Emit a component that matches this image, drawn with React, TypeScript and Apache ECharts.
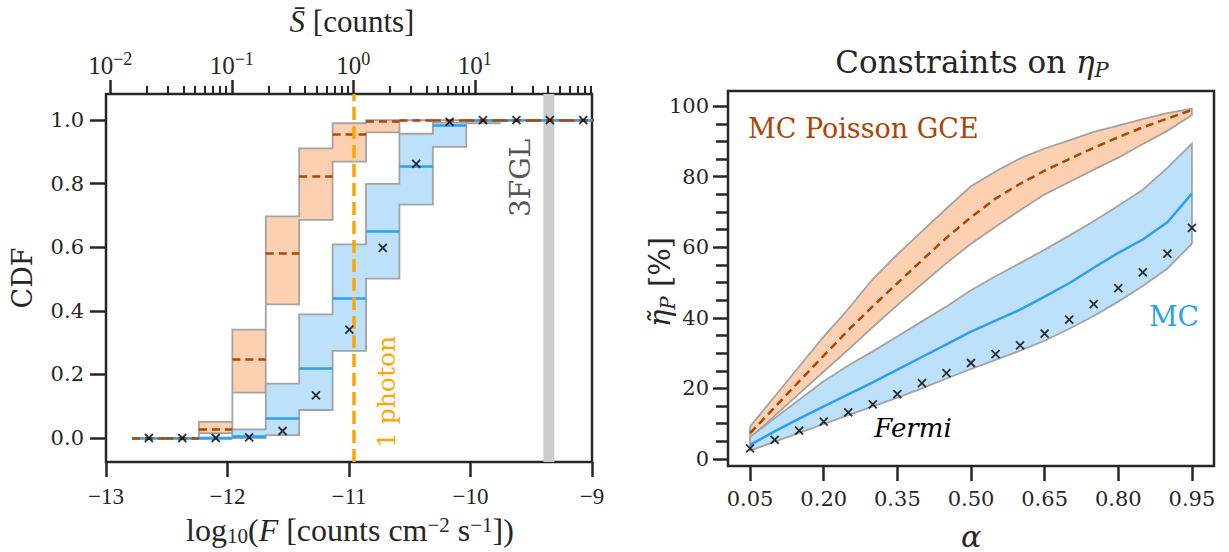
import React, { useEffect, useRef } from 'react';
import * as echarts from 'echarts';

// ---------------- Left panel: CDF of source fluxes ----------------
const binEdges = [-12.785, -12.51, -12.235, -11.96, -11.685, -11.41, -11.135, -10.86, -10.585, -10.31, -10.035, -9.76, -9.485, -9.21, -8.935];
const binCenters = [-12.647, -12.372, -12.097, -11.822, -11.547, -11.272, -10.997, -10.722, -10.447, -10.172, -9.897, -9.622, -9.347, -9.072];

const poissonLo = [0, 0, 0.015, 0.143, 0.42, 0.686, 0.869, 0.961, 0.999, 1, 1, 1, 1, 1];
const poissonMed = [0, 0, 0.028, 0.248, 0.581, 0.822, 0.956, 0.995, 1, 1, 1, 1, 1, 1];
const poissonHi = [0, 0, 0.051, 0.341, 0.697, 0.911, 0.99, 1, 1, 1, 1, 1, 1, 1];

const mcLo = [0, 0, 0, 0, 0.009, 0.088, 0.274, 0.501, 0.734, 0.916, 0.99, 1, 1, 1];
const mcMed = [0, 0, 0, 0.004, 0.062, 0.22, 0.439, 0.65, 0.856, 0.984, 0.998, 1, 1, 1];
const mcHi = [0, 0, 0.002, 0.027, 0.171, 0.389, 0.609, 0.799, 0.957, 0.992, 1, 1, 1, 1];

const fermiCdf = [0, 0, 0, 0.002, 0.022, 0.134, 0.341, 0.598, 0.862, 0.994, 1, 1, 1, 1];

const photonLogF = -10.965; // flux giving 1 photon (S = 1 count)
const fgl3Band = [-9.4, -9.31];
const cdfTicks = [0, 0.2, 0.4, 0.6, 0.8, 1.0];
const sTicksMajor = [-2, -1, 0, 1];
const logFMin = -13;
const logFMax = -9;

// ---------------- Right panel: constraints on eta_P ----------------
const alphaVals = [0.05, 0.1, 0.15, 0.2, 0.25, 0.3, 0.35, 0.4, 0.45, 0.5, 0.55, 0.6, 0.65, 0.7, 0.75, 0.8, 0.85, 0.9, 0.95];
const fermiEta = [3.0, 5.4, 8.0, 10.6, 13.2, 15.5, 18.4, 21.5, 24.3, 27.2, 29.7, 32.2, 35.5, 39.5, 43.9, 48.4, 52.9, 58.2, 65.5];
const mcEtaMed = [4.0, 7.8, 11.4, 14.9, 18.3, 21.7, 25.3, 28.9, 32.5, 36.1, 39.2, 42.3, 46.0, 49.8, 54.2, 58.4, 62.2, 67.1, 75.2];
const mcEtaHi = [6.2, 11.5, 16.8, 22.0, 26.5, 30.5, 34.7, 39.0, 43.2, 47.8, 51.8, 55.5, 59.3, 63.3, 67.4, 71.8, 76.3, 82.5, 89.4];
const mcEtaLo = [2.4, 4.9, 7.4, 9.9, 12.4, 14.9, 17.4, 20.0, 22.8, 25.5, 28.1, 30.7, 33.5, 36.9, 40.5, 44.6, 49.0, 54.0, 61.0];
const poiEtaMed = [7.3, 14.6, 22.0, 29.3, 36.5, 43.3, 49.8, 56.3, 62.7, 68.5, 73.8, 78.0, 81.7, 85.0, 88.2, 91.2, 94.0, 96.5, 98.9];
const poiEtaHi = [9.2, 17.7, 26.2, 34.7, 42.5, 51.0, 58.0, 64.5, 71.0, 77.3, 81.5, 85.2, 88.0, 90.3, 92.7, 94.5, 96.3, 98.0, 99.3];
const poiEtaLo = [5.9, 12.2, 18.5, 24.8, 31.0, 37.4, 43.6, 49.6, 55.5, 61.0, 65.8, 70.5, 75.0, 78.5, 82.0, 85.4, 89.3, 93.0, 97.5];
const alphaTicks = [0.05, 0.2, 0.35, 0.5, 0.65, 0.8, 0.95];
const etaTicksMajor = [0, 20, 40, 60, 80, 100];
const etaTicksMinor = [5, 10, 15, 25, 30, 35, 45, 50, 55, 65, 70, 75, 85, 90, 95];

// ---------------- styling ----------------
const SERIF = "'DejaVu Serif', serif";
const CM = "'Liberation Serif', 'DejaVu Serif', serif";
const INK = '#262626';
const EDGE = '#a3a3a3';
const ORANGE_FILL = '#fdd0b1';
const BLUE_FILL = '#bde1fb';
const DARK_ORANGE = '#ac4505';
const BLUE = '#2b9ff5';
const PHOTON = '#ffa500';
const CROSS = 'path://M0 0L10 10M10 0L0 10';

const fnt = (size: number, family: string, italic = false) => `${italic ? 'italic ' : ''}${size}px ${family}`;

const topMinor: number[] = [];
for (let n = -3; n <= 1; n++) {
  for (let k = 2; k <= 9; k++) {
    const v = n + Math.log10(k);
    if (v > logFMin - photonLogF && v < logFMax - photonLogF) topMinor.push(v);
  }
}

const tickLine = { color: INK, width: 2.5 };

function stepBand(lo: number[], hi: number[], fill: string) {
  return {
    type: 'custom',
    xAxisIndex: 0,
    yAxisIndex: 0,
    clip: true,
    z: 2,
    silent: true,
    data: lo.map((v, i) => [binCenters[i], v, hi[i]]),
    encode: { x: 0, y: [1, 2] },
    renderItem: (params: any, api: any) => {
      if (params.dataIndex !== 0) return null;
      const pts: number[][] = [];
      for (let i = 0; i < hi.length; i++) {
        pts.push(api.coord([binEdges[i], hi[i]]));
        pts.push(api.coord([binEdges[i + 1], hi[i]]));
      }
      for (let i = lo.length - 1; i >= 0; i--) {
        pts.push(api.coord([binEdges[i + 1], lo[i]]));
        pts.push(api.coord([binEdges[i], lo[i]]));
      }
      return { type: 'polygon', shape: { points: pts }, style: { fill, stroke: EDGE, lineWidth: 1.8 } };
    },
  };
}

function smoothBand(lo: number[], hi: number[], fill: string) {
  return {
    type: 'custom',
    xAxisIndex: 3,
    yAxisIndex: 1,
    clip: true,
    z: 2,
    silent: true,
    data: lo.map((v, i) => [alphaVals[i], v, hi[i]]),
    encode: { x: 0, y: [1, 2] },
    renderItem: (params: any, api: any) => {
      if (params.dataIndex !== 0) return null;
      const pts: number[][] = [];
      for (let i = 0; i < hi.length; i++) pts.push(api.coord([alphaVals[i], hi[i]]));
      for (let i = lo.length - 1; i >= 0; i--) pts.push(api.coord([alphaVals[i], lo[i]]));
      return { type: 'polygon', shape: { points: pts }, style: { fill, stroke: EDGE, lineWidth: 1.8 } };
    },
  };
}

function medianSegments(vals: number[], color: string, dashed: boolean, z: number) {
  return {
    type: 'lines',
    coordinateSystem: 'cartesian2d',
    xAxisIndex: 0,
    yAxisIndex: 0,
    clip: true,
    silent: true,
    z,
    data: vals.map((v, i) => ({ coords: [[binEdges[i], v], [binEdges[i + 1], v]] })),
    lineStyle: { color, width: 2.5, opacity: 1, type: dashed ? [8, 5] : 'solid' },
  };
}

const supMinus = (v: number) => (v < 0 ? '\u2212' : '') + Math.abs(Math.round(v));

function label(x: number, y: number, text: string, font: string, fill: string, opts: any = {}) {
  return {
    type: 'text', x, y, z: 10, rotation: opts.rotation || 0,
    style: { text, font, fill, align: opts.align || 'center', verticalAlign: 'middle', rich: opts.rich },
  };
}

const option: any = {
  animation: false,
  backgroundColor: '#ffffff',
  grid: [
    { left: 106, top: 94, width: 486, height: 368, show: true, borderColor: INK, borderWidth: 2.5, backgroundColor: 'transparent' },
    { left: 728, top: 91, width: 486, height: 375, show: true, borderColor: INK, borderWidth: 2.5, backgroundColor: 'transparent' },
  ],
  xAxis: [
    {
      gridIndex: 0, type: 'value', min: logFMin, max: logFMax, interval: 1, position: 'bottom',
      axisLine: { show: false, onZero: false },
      axisTick: { length: 15, lineStyle: tickLine },
      axisLabel: { formatter: (v: number) => String(v).replace('-', '\u2212'), fontFamily: CM, fontSize: 23, color: INK, margin: 23 },
      splitLine: { show: false },
    },
    {
      gridIndex: 0, type: 'value', min: logFMin - photonLogF, max: logFMax - photonLogF, position: 'top',
      axisLine: { show: false, onZero: false },
      axisTick: { customValues: sTicksMajor, length: 14, lineStyle: tickLine },
      axisLabel: {
        customValues: sTicksMajor,
        formatter: (v: number) => `{b|10}{s|${supMinus(v)}}`,
        margin: 16,
        rich: {
          b: { fontFamily: CM, fontSize: 25, color: INK, lineHeight: 28, verticalAlign: 'bottom' },
          s: { fontFamily: CM, fontSize: 18, color: INK, lineHeight: 18, verticalAlign: 'top' },
        },
      },
      splitLine: { show: false },
    },
    {
      gridIndex: 0, type: 'value', min: logFMin - photonLogF, max: logFMax - photonLogF, position: 'top',
      axisLine: { show: false, onZero: false },
      axisTick: { customValues: topMinor, length: 8, lineStyle: { color: INK, width: 2 } },
      axisLabel: { show: false },
      splitLine: { show: false },
    },
    {
      gridIndex: 1, type: 'value', min: 0.005, max: 0.995, position: 'bottom',
      axisLine: { show: false, onZero: false },
      axisTick: { customValues: alphaTicks, length: 15, lineStyle: tickLine },
      axisLabel: { customValues: alphaTicks, formatter: (v: number) => v.toFixed(2), fontFamily: SERIF, fontSize: 21, color: INK, margin: 22 },
      splitLine: { show: false },
    },
  ],
  yAxis: [
    {
      gridIndex: 0, type: 'value', min: -0.0755, max: 1.082, position: 'left',
      axisLine: { show: false, onZero: false },
      axisTick: { customValues: cdfTicks, length: 16, lineStyle: tickLine },
      axisLabel: { customValues: cdfTicks, formatter: (v: number) => v.toFixed(1), fontFamily: SERIF, fontSize: 21, color: INK, margin: 22 },
      splitLine: { show: false },
    },
    {
      gridIndex: 1, type: 'value', min: -2, max: 104.3, position: 'left',
      axisLine: { show: false, onZero: false },
      axisTick: { customValues: etaTicksMajor, length: 15, lineStyle: tickLine },
      axisLabel: { customValues: etaTicksMajor, formatter: (v: number) => String(Math.round(v)), fontFamily: SERIF, fontSize: 21, color: INK, margin: 19 },
      splitLine: { show: false },
    },
    {
      gridIndex: 1, type: 'value', min: -2, max: 104.3, position: 'left',
      axisLine: { show: false, onZero: false },
      axisTick: { customValues: etaTicksMinor, length: 12, lineStyle: tickLine },
      axisLabel: { show: false },
      splitLine: { show: false },
    },
  ],
  series: [
    // 3FGL band and 1-photon line
    {
      type: 'line', xAxisIndex: 0, yAxisIndex: 0, data: [], z: 1, silent: true,
      markArea: { silent: true, itemStyle: { color: '#cccccc' }, data: [[{ xAxis: fgl3Band[0] }, { xAxis: fgl3Band[1] }]] },
    },
    stepBand(poissonLo, poissonHi, ORANGE_FILL),
    stepBand(mcLo, mcHi, BLUE_FILL),
    medianSegments(mcMed, BLUE, false, 3),
    medianSegments(poissonMed, DARK_ORANGE, true, 4),
    {
      type: 'line', xAxisIndex: 0, yAxisIndex: 0, data: [], z: 5, silent: true,
      markLine: {
        silent: true, symbol: 'none', label: { show: false },
        lineStyle: { color: PHOTON, width: 3.5, type: [13, 6] },
        data: [{ xAxis: photonLogF }],
      },
    },
    {
      type: 'scatter', xAxisIndex: 0, yAxisIndex: 0, z: 6, silent: true,
      data: binCenters.map((x, i) => [x, fermiCdf[i]]),
      symbol: CROSS, symbolSize: 8,
      itemStyle: { color: 'transparent', borderColor: '#000', borderWidth: 1.8 },
    },
    // right panel
    smoothBand(poiEtaLo, poiEtaHi, ORANGE_FILL),
    smoothBand(mcEtaLo, mcEtaHi, BLUE_FILL),
    {
      type: 'line', xAxisIndex: 3, yAxisIndex: 1, z: 3, silent: true, showSymbol: false, symbol: 'none',
      data: alphaVals.map((a, i) => [a, mcEtaMed[i]]),
      lineStyle: { color: BLUE, width: 2.5 },
    },
    {
      type: 'line', xAxisIndex: 3, yAxisIndex: 1, z: 4, silent: true, showSymbol: false, symbol: 'none',
      data: alphaVals.map((a, i) => [a, poiEtaMed[i]]),
      lineStyle: { color: DARK_ORANGE, width: 2.5, type: [8, 5] },
    },
    {
      type: 'scatter', xAxisIndex: 3, yAxisIndex: 1, z: 6, silent: true,
      data: alphaVals.map((a, i) => [a, fermiEta[i]]),
      symbol: CROSS, symbolSize: 8,
      itemStyle: { color: 'transparent', borderColor: '#000', borderWidth: 1.8 },
    },
  ],
  graphic: [
    label(352, 21, '{i|S\u0304} {r|[counts]}', fnt(31, CM), INK, {
      rich: {
        i: { font: fnt(31, CM, true), fill: INK, lineHeight: 31 },
        r: { font: fnt(31, CM), fill: INK, lineHeight: 31 },
      },
    }),
    label(22, 278, 'CDF', fnt(27, SERIF), INK, { rotation: Math.PI / 2 }),
    label(350, 530, '{r|log}{sub|10}{r|(}{i|F}{r| [counts cm}{sup|\u22122}{r| s}{sup|\u22121}{r|])}', fnt(32, CM), INK, {
      rich: {
        r: { font: fnt(32, CM), fill: INK, lineHeight: 32, verticalAlign: 'middle' },
        i: { font: fnt(32, CM, true), fill: INK, lineHeight: 32, verticalAlign: 'middle' },
        sub: { font: fnt(21, CM), fill: INK, lineHeight: 21, verticalAlign: 'bottom' },
        sup: { font: fnt(21, CM), fill: INK, lineHeight: 21, verticalAlign: 'top' },
      },
    }),
    label(520, 178, '3FGL', fnt(28, SERIF), '#555555', { rotation: Math.PI / 2 }),
    label(386, 392, '1 photon', fnt(25, SERIF), PHOTON, { rotation: Math.PI / 2 }),
    label(972, 62, '{r|Constraints on }{i|\u03b7}{sub|P}', fnt(31, SERIF), INK, {
      rich: {
        r: { font: fnt(31, SERIF), fill: INK, lineHeight: 36, verticalAlign: 'middle' },
        i: { font: fnt(31, SERIF, true), fill: INK, lineHeight: 36, verticalAlign: 'middle' },
        sub: { font: fnt(21, SERIF, true), fill: INK, lineHeight: 21, verticalAlign: 'bottom' },
      },
    }),
    label(660, 282, '{i|\u03b7\u0303}{sub|P}{r| [%]}', fnt(29, SERIF), INK, {
      rotation: Math.PI / 2,
      rich: {
        r: { font: fnt(29, SERIF), fill: INK, lineHeight: 36, verticalAlign: 'middle' },
        i: { font: fnt(29, SERIF, true), fill: INK, lineHeight: 36, verticalAlign: 'middle' },
        sub: { font: fnt(20, SERIF, true), fill: INK, lineHeight: 20, verticalAlign: 'bottom' },
      },
    }),
    label(971, 536, '\u03b1', fnt(30, SERIF, true), INK),
    label(748, 128, 'MC Poisson GCE', fnt(27, SERIF), DARK_ORANGE, { align: 'left' }),
    label(1199, 316, 'MC', fnt(28, SERIF), BLUE, { align: 'right' }),
    label(913, 428, 'Fermi', fnt(26, SERIF, true), '#000000'),
  ],
};

export default function App() {
  const ref = useRef<HTMLDivElement>(null);
  useEffect(() => {
    const chart = echarts.init(ref.current as HTMLDivElement, null, { renderer: 'svg' });
    chart.setOption(option);
    return () => chart.dispose();
  }, []);
  return (
    <div
      ref={ref}
      style={{ position: 'fixed', left: 0, top: 0, width: 1229, height: 552, background: '#ffffff' }}
    />
  );
}
